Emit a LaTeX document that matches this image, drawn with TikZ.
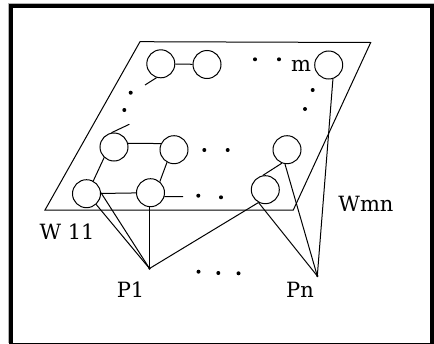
\documentclass[tikz,border=0pt]{standalone}
\usepackage{fontspec}
\setmainfont{DejaVu Serif}
\begin{document}
\begin{tikzpicture}[x=1pt,y=-1pt,
  unit/.style={circle,draw,line width=1pt,minimum size=28pt,inner sep=0pt},
  wire/.style={line width=1pt},
  pt/.style={circle,fill,inner sep=0pt,minimum size=4pt},
  tip/.style={circle,fill,inner sep=0pt,minimum size=2.5pt},
  lbl/.style={anchor=base,inner sep=0pt,font=\fontsize{21}{21}\selectfont}]
\useasboundingbox (0,0) rectangle (434,343);

% frame
\draw[gray!60,line width=1pt] (8.5,343) -- (8.5,3.5) -- (434,3.5);
\draw[line width=4pt] (11,6) rectangle (432,345);

% plane holding the units
\coordinate (ptl) at (140,41.7);
\coordinate (ptr) at (370.7,42.5);
\coordinate (pbr) at (293.3,210);
\coordinate (pbl) at (45,210);
\draw[wire] (pbl) -- (ptl) -- (ptr) -- (pbr) -- cycle;

% units
\node[unit] (t1) at (160.8,63.8) {};
\node[unit] (t2) at (207,64.5) {};
\node[unit] (mc) at (328.7,65) {};
\node[unit] (l2) at (114,147) {};
\node[unit] (m2) at (174,149.7) {};
\node[unit] (r2) at (287,149.7) {};
\node[unit] (l3) at (86.5,193.7) {};
\node[unit] (m3) at (150.5,192.7) {};
\node[unit] (r3) at (265.3,189.7) {};

% output points
\node[tip] (P1) at (149.5,268.5) {};
\node[tip] (Pn) at (317.3,276) {};

% stub ends
\coordinate (s1) at (145,85);
\coordinate (s2) at (129.3,124.3);
\coordinate (s3) at (183,196.7);

% lattice links
\draw[wire] (t1) -- (t2);
\draw[wire] (t1.-107) -- (s1);
\draw[wire] (l2.100) -- (s2);
\draw[wire] (l2.15) -- (m2.155);
\draw[wire] (l2.-133) -- (l3.62);
\draw[wire] (m2.-119) -- (m3.50);
\draw[wire] (l3) -- (m3);
\draw[wire] (m3.-16) -- (s3);
\draw[wire] (r3.100) -- (r2.-111);

% weights to P1
\draw[wire] (l3.4) -- (P1.center);
\draw[wire] (l3.-48) -- (P1.center);
\draw[wire] (P1 |- m3.south) -- (P1.center);
\draw[wire] (P1.center) -- (r3.-118);

% weights to Pn
\draw[wire] (r3.-118) -- (Pn.center);
\draw[wire] (r2.-98) -- (Pn.center);
\draw[wire] (mc.-73) -- (Pn.center);

% ellipsis dots
\foreach \x/\y in {255/59.3, 279/59.3, 130.7/92.7, 124.3/110, 312.7/90, 305/109,
                   204.3/150, 227.7/150, 198.3/195.7, 221/197.3,
                   198.5/271.7, 218.3/273, 238.5/273.3}
  \node[pt] at (\x,\y) {};

% labels
\node[lbl] (lm)   at (301,71.7) {m};
\node[lbl] (lw11) at (67,239) {W 11};
\node[lbl] (lwmn) at (366,211) {Wmn};
\node[lbl] (lp1)  at (130.5,297) {P1};
\node[lbl] (lpn)  at (300,297) {Pn};
\end{tikzpicture}
\end{document}
